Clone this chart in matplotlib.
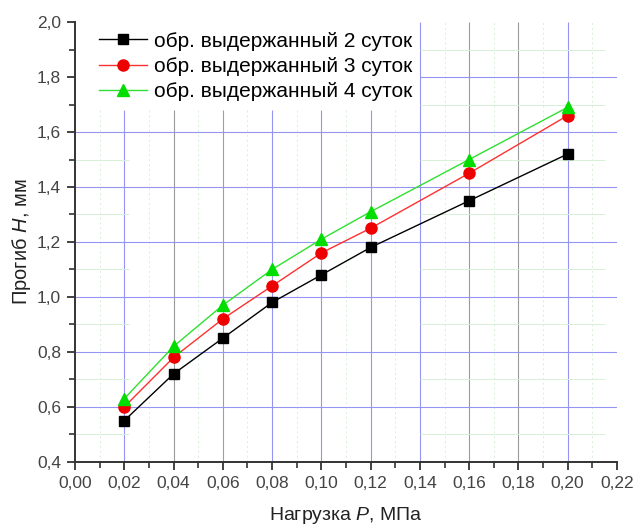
import matplotlib
matplotlib.use("Agg")
import matplotlib.pyplot as plt
from matplotlib.ticker import MultipleLocator

plt.rcParams['font.family'] = ['Liberation Sans', 'DejaVu Sans']
plt.rcParams['mathtext.fontset'] = 'custom'
plt.rcParams['mathtext.rm'] = 'Liberation Sans'
plt.rcParams['mathtext.it'] = 'Liberation Sans:italic'

# load, MPa
load = [0.02, 0.04, 0.06, 0.08, 0.10, 0.12, 0.16, 0.20]
# deflection, mm
days2 = [0.55, 0.72, 0.85, 0.98, 1.08, 1.18, 1.35, 1.52]
days3 = [0.60, 0.78, 0.92, 1.04, 1.16, 1.25, 1.45, 1.66]
days4 = [0.63, 0.82, 0.97, 1.10, 1.21, 1.31, 1.50, 1.69]
labels = ['обр. выдержанный 2 суток', 'обр. выдержанный 3 суток',
          'обр. выдержанный 4 суток']

xticks = [0.00, 0.02, 0.04, 0.06, 0.08, 0.10, 0.12, 0.14, 0.16, 0.18, 0.20, 0.22]
yticks = [0.4, 0.6, 0.8, 1.0, 1.2, 1.4, 1.6, 1.8, 2.0]

fig = plt.figure(figsize=(6.36, 5.26), dpi=100)
ax = fig.add_axes([0.118, 0.122, 0.852, 0.836])
ax.set_xlim(0, 0.22)
ax.set_ylim(0.4, 2.0)

blue = '#9494f2'
grey = '#9a9a9a'
green = '#d6f0d6'

# grid (patchy like the original scan)
for x in xticks[1:-1]:
    col = grey if x in (0.04, 0.16, 0.18) else blue
    top = 2.0 if x >= 0.14 else 1.68
    ax.vlines(x, 0.4, top, color=col, lw=0.8, zorder=0)
for i in range(11):
    x = 0.01 + 0.02 * i
    top = 2.0 if x >= 0.14 else 1.68
    ax.vlines(x, 0.4, top, color=green, lw=0.7, ls=(0, (2, 3)), zorder=0)
for y in yticks[1:-1]:
    x0 = 0.14 if y > 1.7 else 0.0
    ax.hlines(y, x0, 0.22, color=blue, lw=0.8, zorder=0)
for i in range(8):
    y = 0.5 + 0.2 * i
    if y < 1.7:
        ax.hlines(y, 0.0, 0.022, color=green, lw=0.7, zorder=0)
    ax.hlines(y, 0.14, 0.215, color=green, lw=0.7, zorder=0)

ax.plot(load, days2, color='black', lw=1.0, marker='s', ms=7, label=labels[0])
ax.plot(load, days3, color='#ff3030', lw=1.0, marker='o', ms=8,
        mfc='#ee0000', mec='#ee0000', label=labels[1])
ax.plot(load, days4, color='#30e030', lw=1.0, marker='^', ms=8.5,
        mfc='#00dd00', mec='#00dd00', label=labels[2])

ax.spines['top'].set_visible(False)
ax.spines['right'].set_visible(False)
for s in ('left', 'bottom'):
    ax.spines[s].set_linewidth(1.4)
    ax.spines[s].set_color('#333333')

ax.set_xticks(xticks)
ax.set_xticklabels([('%.2f' % v).replace('.', ',') for v in xticks])
ax.set_yticks(yticks)
ax.set_yticklabels([('%.1f' % v).replace('.', ',') for v in yticks])
ax.xaxis.set_minor_locator(MultipleLocator(0.01))
ax.yaxis.set_minor_locator(MultipleLocator(0.1))
ax.tick_params(which='major', direction='out', length=6, width=1.3,
               color='#333333', labelsize=12.5, labelcolor='#444444', pad=4)
ax.tick_params(which='minor', direction='out', length=4, width=1.2,
               color='#333333')

ax.set_xlabel('Нагрузка $\\it{P}$, МПа', fontsize=14, color='#222222', labelpad=10)
ax.set_ylabel('Прогиб $\\it{H}$, мм', fontsize=14.5, color='#222222', labelpad=3)

ax.legend(loc='upper left', bbox_to_anchor=(0.045, 0.978), frameon=False,
          fontsize=15, handlelength=2.3, borderaxespad=0, borderpad=0,
          labelspacing=0.3, handletextpad=0.3)

fig.savefig('out.png', dpi=100)
